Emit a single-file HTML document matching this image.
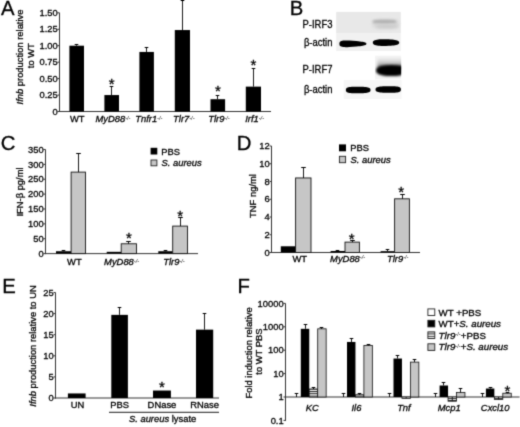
<!DOCTYPE html>
<html><head><meta charset="utf-8"><title>Figure</title>
<style>
html,body{margin:0;padding:0;background:#fff;width:520px;height:427px;overflow:hidden}
svg{display:block}
text{font-family:"Liberation Sans", Arial, sans-serif;fill:#000;stroke:#000;stroke-width:0.3px}
</style></head><body>
<svg width="520" height="427" viewBox="0 0 520 427">
<defs><filter id="soft" filterUnits="userSpaceOnUse" x="0" y="0" width="520" height="427" color-interpolation-filters="sRGB"><feConvolveMatrix order="3" kernelMatrix="0.025 0.1 0.025 0.1 0.5 0.1 0.025 0.1 0.025" edgeMode="duplicate" preserveAlpha="true"/></filter></defs>
<g filter="url(#soft)">
<rect x="0" y="0" width="520" height="427" fill="#fff"/>
<defs><pattern id="stripes" patternUnits="userSpaceOnUse" width="4" height="2.3"><rect width="4" height="2.3" fill="#fff"/><rect width="4" height="0.95" fill="#111"/></pattern></defs>
<text x="1.00" y="14.80" font-size="20.3" text-anchor="start">A</text>
<line x1="59.50" y1="112.00" x2="59.50" y2="12.80" stroke="#333" stroke-width="1"/>
<line x1="59.00" y1="111.50" x2="271.00" y2="111.50" stroke="#333" stroke-width="1"/>
<line x1="57.50" y1="111.50" x2="59.50" y2="111.50" stroke="#333" stroke-width="1"/>
<text transform="translate(57.70,114.70) scale(1.0,1)" font-size="9.4" text-anchor="end" letter-spacing="0">0</text>
<line x1="57.50" y1="95.05" x2="59.50" y2="95.05" stroke="#333" stroke-width="1"/>
<text transform="translate(57.70,98.25) scale(1.0,1)" font-size="9.4" text-anchor="end" letter-spacing="0">0.25</text>
<line x1="57.50" y1="78.60" x2="59.50" y2="78.60" stroke="#333" stroke-width="1"/>
<text transform="translate(57.70,81.80) scale(1.0,1)" font-size="9.4" text-anchor="end" letter-spacing="0">0.50</text>
<line x1="57.50" y1="62.15" x2="59.50" y2="62.15" stroke="#333" stroke-width="1"/>
<text transform="translate(57.70,65.35) scale(1.0,1)" font-size="9.4" text-anchor="end" letter-spacing="0">0.75</text>
<line x1="57.50" y1="45.70" x2="59.50" y2="45.70" stroke="#333" stroke-width="1"/>
<text transform="translate(57.70,48.90) scale(1.0,1)" font-size="9.4" text-anchor="end" letter-spacing="0">1.00</text>
<line x1="57.50" y1="29.25" x2="59.50" y2="29.25" stroke="#333" stroke-width="1"/>
<text transform="translate(57.70,32.45) scale(1.0,1)" font-size="9.4" text-anchor="end" letter-spacing="0">1.25</text>
<line x1="57.50" y1="12.80" x2="59.50" y2="12.80" stroke="#333" stroke-width="1"/>
<text transform="translate(57.70,16.00) scale(1.0,1)" font-size="9.4" text-anchor="end" letter-spacing="0">1.50</text>
<rect x="69.40" y="45.70" width="14.60" height="65.80" fill="#000" stroke="none" stroke-width="0.8"/>
<line x1="76.50" y1="45.70" x2="76.50" y2="44.50" stroke="#000" stroke-width="0.9"/>
<line x1="74.70" y1="44.50" x2="78.30" y2="44.50" stroke="#000" stroke-width="1.0"/>
<rect x="104.40" y="95.05" width="14.60" height="16.45" fill="#000" stroke="none" stroke-width="0.8"/>
<line x1="111.50" y1="95.05" x2="111.50" y2="86.50" stroke="#000" stroke-width="0.9"/>
<line x1="109.70" y1="86.50" x2="113.30" y2="86.50" stroke="#000" stroke-width="1.0"/>
<text x="111.70" y="89.40" font-size="15" text-anchor="middle">*</text>
<rect x="139.40" y="51.95" width="14.50" height="59.55" fill="#000" stroke="none" stroke-width="0.8"/>
<line x1="146.50" y1="51.95" x2="146.50" y2="47.50" stroke="#000" stroke-width="0.9"/>
<line x1="144.70" y1="47.50" x2="148.30" y2="47.50" stroke="#000" stroke-width="1.0"/>
<rect x="174.80" y="30.04" width="15.20" height="81.46" fill="#000" stroke="none" stroke-width="0.8"/>
<line x1="182.50" y1="30.04" x2="182.50" y2="0.50" stroke="#000" stroke-width="0.9"/>
<line x1="180.70" y1="0.50" x2="184.30" y2="0.50" stroke="#000" stroke-width="1.0"/>
<rect x="210.50" y="99.20" width="14.60" height="12.30" fill="#000" stroke="none" stroke-width="0.8"/>
<line x1="217.50" y1="99.20" x2="217.50" y2="95.50" stroke="#000" stroke-width="0.9"/>
<line x1="215.70" y1="95.50" x2="219.30" y2="95.50" stroke="#000" stroke-width="1.0"/>
<text x="217.80" y="95.90" font-size="15" text-anchor="middle">*</text>
<rect x="245.80" y="86.63" width="15.20" height="24.87" fill="#000" stroke="none" stroke-width="0.8"/>
<line x1="253.50" y1="86.63" x2="253.50" y2="68.50" stroke="#000" stroke-width="0.9"/>
<line x1="251.70" y1="68.50" x2="255.30" y2="68.50" stroke="#000" stroke-width="1.0"/>
<text x="253.40" y="69.50" font-size="15" text-anchor="middle">*</text>
<text transform="translate(77.30,122.20) scale(1.0,1)" font-size="9.4" text-anchor="middle">WT</text>
<text transform="translate(113.00,122.20) scale(1.0,1)" font-size="9.4" text-anchor="middle" font-style="italic">MyD88<tspan font-size="5.6" dy="-2.5" stroke-width="0">-/-</tspan></text>
<text transform="translate(148.80,122.20) scale(1.0,1)" font-size="9.4" text-anchor="middle" font-style="italic">Tnfr1<tspan font-size="5.6" dy="-2.5" stroke-width="0">-/-</tspan></text>
<text transform="translate(183.80,122.20) scale(1.0,1)" font-size="9.4" text-anchor="middle" font-style="italic">Tlr7<tspan font-size="5.6" dy="-2.5" stroke-width="0">-/-</tspan></text>
<text transform="translate(219.00,122.20) scale(1.0,1)" font-size="9.4" text-anchor="middle" font-style="italic">Tlr9<tspan font-size="5.6" dy="-2.5" stroke-width="0">-/-</tspan></text>
<text transform="translate(254.60,122.20) scale(1.0,1)" font-size="9.4" text-anchor="middle" font-style="italic">Irf1<tspan font-size="5.6" dy="-2.5" stroke-width="0">-/-</tspan></text>
<text transform="translate(23.20,57.00) rotate(-90) scale(1.0,1)" font-size="9.4" text-anchor="middle"><tspan font-style="italic">Ifnb</tspan> production relative</text>
<text transform="translate(34.20,55.70) rotate(-90) scale(1.0,1)" font-size="9.4" text-anchor="middle">to WT</text>
<text x="289.80" y="14.90" font-size="20.3" text-anchor="start">B</text>
<text transform="translate(332.4,28.00) scale(0.9,1)" font-size="10.5" text-anchor="end" stroke-width="0.15">P-IRF3</text>
<text transform="translate(332.4,46.40) scale(0.9,1)" font-size="10.5" text-anchor="end" stroke-width="0.15">&#946;-actin</text>
<text transform="translate(332.4,73.00) scale(0.9,1)" font-size="10.5" text-anchor="end" stroke-width="0.15">P-IRF7</text>
<text transform="translate(332.4,93.00) scale(0.9,1)" font-size="10.5" text-anchor="end" stroke-width="0.15">&#946;-actin</text>
<defs>
<filter id="bl" x="-20%" y="-60%" width="140%" height="220%"><feGaussianBlur stdDeviation="0.75"/></filter>
<filter id="bl2" x="-30%" y="-100%" width="160%" height="300%"><feGaussianBlur stdDeviation="1.6"/></filter>
<filter id="bl3" x="-30%" y="-100%" width="160%" height="300%"><feGaussianBlur stdDeviation="1.1"/></filter>
<linearGradient id="g7" x1="0" y1="0" x2="0" y2="1"><stop offset="0" stop-color="#f2f2f2"/><stop offset="0.4" stop-color="#d0d0d0"/><stop offset="1" stop-color="#444"/></linearGradient>
</defs>
<rect x="336.20" y="11.90" width="64.60" height="21.60" fill="#e8e8e8" stroke="none" stroke-width="0.8"/>
<polygon points="399.00,24.00 398.92,25.29 398.69,26.03 398.31,26.64 397.77,27.15 397.07,27.59 396.21,27.97 395.20,28.28 394.00,28.54 392.62,28.74 390.98,28.89 388.97,28.97 385.50,29.00 382.03,28.97 380.02,28.89 378.38,28.74 377.00,28.54 375.80,28.28 374.79,27.97 373.93,27.59 373.23,27.15 372.69,26.64 372.31,26.03 372.08,25.29 372.00,24.00 372.08,22.71 372.31,21.97 372.69,21.36 373.23,20.85 373.93,20.41 374.79,20.03 375.80,19.72 377.00,19.46 378.38,19.26 380.02,19.11 382.03,19.03 385.50,19.00 388.97,19.03 390.98,19.11 392.62,19.26 394.00,19.46 395.20,19.72 396.21,20.03 397.07,20.41 397.77,20.85 398.31,21.36 398.69,21.97 398.92,22.71" fill="#dadada" filter="url(#bl2)"/>
<polygon points="396.50,21.60 396.43,22.06 396.23,22.33 395.88,22.55 395.40,22.73 394.78,22.89 394.02,23.03 393.12,23.14 392.06,23.24 390.83,23.31 389.37,23.36 387.59,23.39 384.50,23.40 381.41,23.39 379.63,23.36 378.17,23.31 376.94,23.24 375.88,23.14 374.98,23.03 374.22,22.89 373.60,22.73 373.12,22.55 372.77,22.33 372.57,22.06 372.50,21.60 372.57,21.14 372.77,20.87 373.12,20.65 373.60,20.47 374.22,20.31 374.98,20.17 375.88,20.06 376.94,19.96 378.17,19.89 379.63,19.84 381.41,19.81 384.50,19.80 387.59,19.81 389.37,19.84 390.83,19.89 392.06,19.96 393.12,20.06 394.02,20.17 394.78,20.31 395.40,20.47 395.88,20.65 396.23,20.87 396.43,21.14" fill="#b0b0b0" filter="url(#bl3)"/>
<polygon points="398.00,26.40 397.94,26.79 397.75,27.01 397.43,27.19 396.99,27.34 396.43,27.48 395.73,27.59 394.90,27.69 393.93,27.76 392.80,27.82 391.47,27.87 389.83,27.89 387.00,27.90 384.17,27.89 382.53,27.87 381.20,27.82 380.07,27.76 379.10,27.69 378.27,27.59 377.57,27.48 377.01,27.34 376.57,27.19 376.25,27.01 376.06,26.79 376.00,26.40 376.06,26.01 376.25,25.79 376.57,25.61 377.01,25.46 377.57,25.32 378.27,25.21 379.10,25.11 380.07,25.04 381.20,24.98 382.53,24.93 384.17,24.91 387.00,24.90 389.83,24.91 391.47,24.93 392.80,24.98 393.93,25.04 394.90,25.11 395.73,25.21 396.43,25.32 396.99,25.46 397.43,25.61 397.75,25.79 397.94,26.01" fill="#c8c8c8" filter="url(#bl2)"/>
<rect x="336.20" y="33.50" width="64.60" height="17.50" fill="#f1f1f1" stroke="none" stroke-width="0.8"/>
<polygon points="366.40,43.80 366.32,44.32 366.09,44.62 365.71,44.88 365.17,45.12 364.47,45.34 363.61,45.55 362.60,45.76 361.40,45.95 360.02,46.15 358.38,46.33 356.37,46.53 352.90,46.80 349.43,47.04 347.42,47.13 345.78,47.15 344.40,47.10 343.20,46.99 342.19,46.81 341.33,46.57 340.63,46.26 340.09,45.88 339.71,45.42 339.48,44.83 339.40,43.80 339.48,42.77 339.71,42.18 340.09,41.72 340.63,41.34 341.33,41.03 342.19,40.79 343.20,40.61 344.40,40.50 345.78,40.45 347.42,40.47 349.43,40.56 352.90,40.80 356.37,41.07 358.38,41.27 360.02,41.45 361.40,41.65 362.60,41.84 363.61,42.05 364.47,42.26 365.17,42.48 365.71,42.72 366.09,42.98 366.32,43.28" fill="#000" filter="url(#bl)"/>
<polygon points="399.20,42.60 399.11,43.24 398.85,43.68 398.42,44.07 397.82,44.41 397.05,44.72 396.11,44.99 395.01,45.23 393.74,45.44 392.30,45.61 390.67,45.75 388.76,45.85 386.00,45.93 383.24,45.96 381.33,45.94 379.70,45.85 378.26,45.72 376.99,45.54 375.89,45.31 374.95,45.03 374.18,44.70 373.58,44.31 373.15,43.87 372.89,43.35 372.80,42.60 372.89,41.85 373.15,41.33 373.58,40.89 374.18,40.50 374.95,40.17 375.89,39.89 376.99,39.66 378.26,39.48 379.70,39.35 381.33,39.26 383.24,39.24 386.00,39.27 388.76,39.35 390.67,39.45 392.30,39.59 393.74,39.76 395.01,39.97 396.11,40.21 397.05,40.48 397.82,40.79 398.42,41.13 398.85,41.52 399.11,41.96" fill="#000" filter="url(#bl)"/>
<clipPath id="c7"><rect x="375.0" y="55.5" width="26.2" height="24"/></clipPath>
<g clip-path="url(#c7)">
<rect x="375.00" y="55.50" width="26.20" height="24.00" fill="#f4f4f4" stroke="none" stroke-width="0.8"/>
<rect x="377.5" y="57.5" width="26" height="12" fill="url(#g7)" filter="url(#bl2)"/>
<polygon points="407.00,70.60 406.88,71.54 406.54,72.30 405.97,72.99 405.18,73.61 404.17,74.17 402.97,74.67 401.57,75.10 399.98,75.45 398.22,75.73 396.29,75.94 394.14,76.06 391.50,76.10 388.86,76.06 386.71,75.94 384.78,75.73 383.02,75.45 381.43,75.10 380.03,74.67 378.83,74.17 377.82,73.61 377.03,72.99 376.46,72.30 376.12,71.54 376.00,70.60 376.12,69.66 376.46,68.90 377.03,68.21 377.82,67.59 378.83,67.03 380.03,66.53 381.43,66.10 383.02,65.75 384.78,65.47 386.71,65.26 388.86,65.14 391.50,65.10 394.14,65.14 396.29,65.26 398.22,65.47 399.98,65.75 401.57,66.10 402.97,66.53 404.17,67.03 405.18,67.59 405.97,68.21 406.54,68.90 406.88,69.66" fill="#000" filter="url(#bl3)"/>
</g>
<rect x="343.80" y="80.00" width="57.70" height="19.00" fill="#f6f6f6" stroke="none" stroke-width="0.8"/>
<polygon points="370.50,90.00 370.43,90.81 370.22,91.28 369.87,91.67 369.38,91.99 368.74,92.28 367.96,92.53 367.03,92.74 365.95,92.92 364.68,93.07 363.20,93.18 361.36,93.26 358.20,93.32 355.04,93.35 353.20,93.32 351.72,93.24 350.45,93.12 349.37,92.96 348.44,92.75 347.66,92.50 347.02,92.19 346.53,91.84 346.18,91.42 345.97,90.90 345.90,90.00 345.97,89.10 346.18,88.58 346.53,88.16 347.02,87.81 347.66,87.50 348.44,87.25 349.37,87.04 350.45,86.88 351.72,86.76 353.20,86.68 355.04,86.65 358.20,86.67 361.36,86.74 363.20,86.82 364.68,86.93 365.95,87.08 367.03,87.26 367.96,87.47 368.74,87.72 369.38,88.01 369.87,88.33 370.22,88.72 370.43,89.19" fill="#000" filter="url(#bl)"/>
<polygon points="400.90,89.50 400.83,90.37 400.61,90.88 400.25,91.29 399.74,91.64 399.08,91.93 398.28,92.18 397.32,92.39 396.20,92.56 394.89,92.69 393.36,92.77 391.47,92.82 388.20,92.82 384.93,92.77 383.04,92.71 381.51,92.60 380.20,92.46 379.08,92.29 378.12,92.08 377.32,91.83 376.66,91.54 376.15,91.20 375.79,90.81 375.57,90.33 375.50,89.50 375.57,88.67 375.79,88.19 376.15,87.80 376.66,87.46 377.32,87.17 378.12,86.92 379.08,86.71 380.20,86.54 381.51,86.40 383.04,86.29 384.93,86.23 388.20,86.19 391.47,86.18 393.36,86.23 394.89,86.31 396.20,86.44 397.32,86.61 398.28,86.82 399.08,87.07 399.74,87.36 400.25,87.71 400.61,88.12 400.83,88.63" fill="#000" filter="url(#bl)"/>
<text x="0.80" y="150.00" font-size="20.3" text-anchor="start">C</text>
<line x1="45.50" y1="254.10" x2="45.50" y2="149.50" stroke="#333" stroke-width="1"/>
<line x1="45.00" y1="253.60" x2="198.00" y2="253.60" stroke="#333" stroke-width="1"/>
<line x1="43.50" y1="253.60" x2="45.50" y2="253.60" stroke="#333" stroke-width="1"/>
<text transform="translate(43.70,256.80) scale(1.0,1)" font-size="9.4" text-anchor="end" letter-spacing="0">0</text>
<line x1="43.50" y1="238.73" x2="45.50" y2="238.73" stroke="#333" stroke-width="1"/>
<text transform="translate(43.70,241.93) scale(1.0,1)" font-size="9.4" text-anchor="end" letter-spacing="0">50</text>
<line x1="43.50" y1="223.86" x2="45.50" y2="223.86" stroke="#333" stroke-width="1"/>
<text transform="translate(43.70,227.06) scale(1.0,1)" font-size="9.4" text-anchor="end" letter-spacing="0">100</text>
<line x1="43.50" y1="208.99" x2="45.50" y2="208.99" stroke="#333" stroke-width="1"/>
<text transform="translate(43.70,212.19) scale(1.0,1)" font-size="9.4" text-anchor="end" letter-spacing="0">150</text>
<line x1="43.50" y1="194.11" x2="45.50" y2="194.11" stroke="#333" stroke-width="1"/>
<text transform="translate(43.70,197.31) scale(1.0,1)" font-size="9.4" text-anchor="end" letter-spacing="0">200</text>
<line x1="43.50" y1="179.24" x2="45.50" y2="179.24" stroke="#333" stroke-width="1"/>
<text transform="translate(43.70,182.44) scale(1.0,1)" font-size="9.4" text-anchor="end" letter-spacing="0">250</text>
<line x1="43.50" y1="164.37" x2="45.50" y2="164.37" stroke="#333" stroke-width="1"/>
<text transform="translate(43.70,167.57) scale(1.0,1)" font-size="9.4" text-anchor="end" letter-spacing="0">300</text>
<line x1="43.50" y1="149.50" x2="45.50" y2="149.50" stroke="#333" stroke-width="1"/>
<text transform="translate(43.70,152.70) scale(1.0,1)" font-size="9.4" text-anchor="end" letter-spacing="0">350</text>
<rect x="56.00" y="251.22" width="15.10" height="2.38" fill="#000" stroke="none" stroke-width="0.8"/>
<line x1="63.50" y1="251.22" x2="63.50" y2="250.50" stroke="#000" stroke-width="0.9"/>
<line x1="61.70" y1="250.50" x2="65.30" y2="250.50" stroke="#000" stroke-width="1.0"/>
<rect x="71.10" y="172.10" width="14.40" height="81.50" fill="#c6c6c6" stroke="#111" stroke-width="0.9"/>
<line x1="78.50" y1="172.10" x2="78.50" y2="153.50" stroke="#000" stroke-width="0.9"/>
<line x1="76.20" y1="153.50" x2="80.80" y2="153.50" stroke="#000" stroke-width="1.0"/>
<rect x="106.70" y="251.82" width="14.50" height="1.78" fill="#000" stroke="none" stroke-width="0.8"/>
<rect x="121.20" y="243.78" width="15.30" height="9.82" fill="#c6c6c6" stroke="#111" stroke-width="0.9"/>
<line x1="128.50" y1="243.78" x2="128.50" y2="241.50" stroke="#000" stroke-width="0.9"/>
<line x1="126.20" y1="241.50" x2="130.80" y2="241.50" stroke="#000" stroke-width="1.0"/>
<text x="128.80" y="242.70" font-size="15" text-anchor="middle">*</text>
<rect x="158.30" y="251.22" width="14.40" height="2.38" fill="#000" stroke="none" stroke-width="0.8"/>
<line x1="165.50" y1="251.22" x2="165.50" y2="250.50" stroke="#000" stroke-width="0.9"/>
<line x1="163.70" y1="250.50" x2="167.30" y2="250.50" stroke="#000" stroke-width="1.0"/>
<rect x="172.70" y="226.09" width="14.80" height="27.51" fill="#c6c6c6" stroke="#111" stroke-width="0.9"/>
<line x1="180.50" y1="226.09" x2="180.50" y2="217.50" stroke="#000" stroke-width="0.9"/>
<line x1="178.20" y1="217.50" x2="182.80" y2="217.50" stroke="#000" stroke-width="1.0"/>
<text x="180.20" y="221.00" font-size="15" text-anchor="middle">*</text>
<text transform="translate(74.40,265.00) scale(1.0,1)" font-size="9.4" text-anchor="middle">WT</text>
<text transform="translate(121.60,265.00) scale(1.0,1)" font-size="9.4" text-anchor="middle" font-style="italic">MyD88<tspan font-size="5.6" dy="-2.5" stroke-width="0">-/-</tspan></text>
<text transform="translate(174.00,265.00) scale(1.0,1)" font-size="9.4" text-anchor="middle" font-style="italic">Tlr9<tspan font-size="5.6" dy="-2.5" stroke-width="0">-/-</tspan></text>
<rect x="150.60" y="147.80" width="6.70" height="6.70" fill="#000" stroke="none" stroke-width="0.8"/>
<rect x="151.00" y="160.00" width="5.90" height="5.80" fill="#c6c6c6" stroke="#222" stroke-width="0.9"/>
<text transform="translate(161.30,154.60) scale(1.0,1)" font-size="9.4" text-anchor="start">PBS</text>
<text transform="translate(161.60,165.90) scale(1.0,1)" font-size="9.4" text-anchor="start" font-style="italic">S. aureus</text>
<text transform="translate(23.00,192.00) rotate(-90) scale(1.0,1)" font-size="9.4" text-anchor="middle">IFN-&#946; pg/ml</text>
<text x="236.80" y="150.00" font-size="20.3" text-anchor="start">D</text>
<line x1="271.50" y1="253.00" x2="271.50" y2="146.00" stroke="#333" stroke-width="1"/>
<line x1="271.00" y1="252.50" x2="420.00" y2="252.50" stroke="#333" stroke-width="1"/>
<line x1="269.50" y1="252.50" x2="271.50" y2="252.50" stroke="#333" stroke-width="1"/>
<text transform="translate(269.70,255.70) scale(1.0,1)" font-size="9.4" text-anchor="end" letter-spacing="0">0</text>
<line x1="269.50" y1="234.75" x2="271.50" y2="234.75" stroke="#333" stroke-width="1"/>
<text transform="translate(269.70,237.95) scale(1.0,1)" font-size="9.4" text-anchor="end" letter-spacing="0">2</text>
<line x1="269.50" y1="217.00" x2="271.50" y2="217.00" stroke="#333" stroke-width="1"/>
<text transform="translate(269.70,220.20) scale(1.0,1)" font-size="9.4" text-anchor="end" letter-spacing="0">4</text>
<line x1="269.50" y1="199.25" x2="271.50" y2="199.25" stroke="#333" stroke-width="1"/>
<text transform="translate(269.70,202.45) scale(1.0,1)" font-size="9.4" text-anchor="end" letter-spacing="0">6</text>
<line x1="269.50" y1="181.50" x2="271.50" y2="181.50" stroke="#333" stroke-width="1"/>
<text transform="translate(269.70,184.70) scale(1.0,1)" font-size="9.4" text-anchor="end" letter-spacing="0">8</text>
<line x1="269.50" y1="163.75" x2="271.50" y2="163.75" stroke="#333" stroke-width="1"/>
<text transform="translate(269.70,166.95) scale(1.0,1)" font-size="9.4" text-anchor="end" letter-spacing="0">10</text>
<line x1="269.50" y1="146.00" x2="271.50" y2="146.00" stroke="#333" stroke-width="1"/>
<text transform="translate(269.70,149.20) scale(1.0,1)" font-size="9.4" text-anchor="end" letter-spacing="0">12</text>
<rect x="280.80" y="246.29" width="14.80" height="6.21" fill="#000" stroke="none" stroke-width="0.8"/>
<rect x="295.60" y="177.95" width="15.40" height="74.55" fill="#c6c6c6" stroke="#111" stroke-width="0.9"/>
<line x1="303.50" y1="177.95" x2="303.50" y2="167.50" stroke="#000" stroke-width="0.9"/>
<line x1="301.20" y1="167.50" x2="305.80" y2="167.50" stroke="#000" stroke-width="1.0"/>
<rect x="330.60" y="250.99" width="14.40" height="1.51" fill="#000" stroke="none" stroke-width="0.8"/>
<line x1="337.50" y1="250.99" x2="337.50" y2="250.50" stroke="#000" stroke-width="0.9"/>
<line x1="335.70" y1="250.50" x2="339.30" y2="250.50" stroke="#000" stroke-width="1.0"/>
<rect x="345.00" y="242.12" width="14.40" height="10.38" fill="#c6c6c6" stroke="#111" stroke-width="0.9"/>
<line x1="352.50" y1="242.12" x2="352.50" y2="240.50" stroke="#000" stroke-width="0.9"/>
<line x1="350.20" y1="240.50" x2="354.80" y2="240.50" stroke="#000" stroke-width="1.0"/>
<text x="351.70" y="243.70" font-size="15" text-anchor="middle">*</text>
<rect x="380.60" y="251.17" width="14.00" height="1.33" fill="#000" stroke="none" stroke-width="0.8"/>
<line x1="387.50" y1="251.17" x2="387.50" y2="249.50" stroke="#000" stroke-width="0.9"/>
<line x1="385.70" y1="249.50" x2="389.30" y2="249.50" stroke="#000" stroke-width="1.0"/>
<rect x="394.60" y="198.81" width="14.80" height="53.69" fill="#c6c6c6" stroke="#111" stroke-width="0.9"/>
<line x1="402.50" y1="198.81" x2="402.50" y2="194.50" stroke="#000" stroke-width="0.9"/>
<line x1="400.20" y1="194.50" x2="404.80" y2="194.50" stroke="#000" stroke-width="1.0"/>
<text x="401.20" y="197.30" font-size="15" text-anchor="middle">*</text>
<text transform="translate(299.80,261.80) scale(1.0,1)" font-size="9.4" text-anchor="middle">WT</text>
<text transform="translate(347.60,261.80) scale(1.0,1)" font-size="9.4" text-anchor="middle" font-style="italic">MyD88<tspan font-size="5.6" dy="-2.5" stroke-width="0">-/-</tspan></text>
<text transform="translate(397.70,261.80) scale(1.0,1)" font-size="9.4" text-anchor="middle" font-style="italic">Tlr9<tspan font-size="5.6" dy="-2.5" stroke-width="0">-/-</tspan></text>
<rect x="339.00" y="144.40" width="7.00" height="6.90" fill="#000" stroke="none" stroke-width="0.8"/>
<rect x="339.40" y="156.30" width="6.20" height="6.40" fill="#c6c6c6" stroke="#222" stroke-width="0.9"/>
<text transform="translate(350.30,151.10) scale(1.0,1)" font-size="9.4" text-anchor="start">PBS</text>
<text transform="translate(350.60,162.70) scale(1.0,1)" font-size="9.4" text-anchor="start" font-style="italic">S. aureus</text>
<text transform="translate(256.10,196.00) rotate(-90) scale(1.0,1)" font-size="9.4" text-anchor="middle">TNF ng/ml</text>
<text x="2.20" y="293.00" font-size="20.3" text-anchor="start">E</text>
<line x1="55.50" y1="398.50" x2="55.50" y2="292.50" stroke="#333" stroke-width="1"/>
<line x1="55.00" y1="398.00" x2="219.00" y2="398.00" stroke="#333" stroke-width="1"/>
<line x1="53.50" y1="398.00" x2="55.50" y2="398.00" stroke="#333" stroke-width="1"/>
<text transform="translate(53.70,401.20) scale(1.0,1)" font-size="9.4" text-anchor="end" letter-spacing="0">0</text>
<line x1="53.50" y1="376.90" x2="55.50" y2="376.90" stroke="#333" stroke-width="1"/>
<text transform="translate(53.70,380.10) scale(1.0,1)" font-size="9.4" text-anchor="end" letter-spacing="0">5</text>
<line x1="53.50" y1="355.80" x2="55.50" y2="355.80" stroke="#333" stroke-width="1"/>
<text transform="translate(53.70,359.00) scale(1.0,1)" font-size="9.4" text-anchor="end" letter-spacing="0">10</text>
<line x1="53.50" y1="334.70" x2="55.50" y2="334.70" stroke="#333" stroke-width="1"/>
<text transform="translate(53.70,337.90) scale(1.0,1)" font-size="9.4" text-anchor="end" letter-spacing="0">15</text>
<line x1="53.50" y1="313.60" x2="55.50" y2="313.60" stroke="#333" stroke-width="1"/>
<text transform="translate(53.70,316.80) scale(1.0,1)" font-size="9.4" text-anchor="end" letter-spacing="0">20</text>
<line x1="53.50" y1="292.50" x2="55.50" y2="292.50" stroke="#333" stroke-width="1"/>
<text transform="translate(53.70,295.70) scale(1.0,1)" font-size="9.4" text-anchor="end" letter-spacing="0">25</text>
<rect x="67.90" y="393.44" width="17.70" height="4.56" fill="#000" stroke="none" stroke-width="0.8"/>
<rect x="111.30" y="314.87" width="16.60" height="83.13" fill="#000" stroke="none" stroke-width="0.8"/>
<line x1="119.50" y1="314.87" x2="119.50" y2="307.50" stroke="#000" stroke-width="0.9"/>
<line x1="117.70" y1="307.50" x2="121.30" y2="307.50" stroke="#000" stroke-width="1.0"/>
<rect x="153.00" y="390.53" width="17.90" height="7.47" fill="#000" stroke="none" stroke-width="0.8"/>
<text x="161.95" y="391.80" font-size="15" text-anchor="middle">*</text>
<rect x="196.00" y="329.64" width="17.20" height="68.36" fill="#000" stroke="none" stroke-width="0.8"/>
<line x1="204.50" y1="329.64" x2="204.50" y2="313.50" stroke="#000" stroke-width="0.9"/>
<line x1="202.70" y1="313.50" x2="206.30" y2="313.50" stroke="#000" stroke-width="1.0"/>
<text transform="translate(77.55,408.30) scale(1.0,1)" font-size="9.4" text-anchor="middle">UN</text>
<text transform="translate(119.60,408.30) scale(1.0,1)" font-size="9.4" text-anchor="middle">PBS</text>
<text transform="translate(161.95,408.30) scale(1.0,1)" font-size="9.4" text-anchor="middle">DNase</text>
<text transform="translate(204.60,408.30) scale(1.0,1)" font-size="9.4" text-anchor="middle">RNase</text>
<line x1="109.00" y1="412.30" x2="219.00" y2="412.30" stroke="#000" stroke-width="0.9"/>
<text transform="translate(162.60,422.10) scale(1.0,1)" font-size="9.4" text-anchor="middle"><tspan font-style="italic">S. aureus</tspan> lysate</text>
<text transform="translate(36.40,346.00) rotate(-90) scale(1.0,1)" font-size="9.4" text-anchor="middle"><tspan font-style="italic">Ifnb</tspan> production relative to UN</text>
<text x="237.50" y="293.20" font-size="20.3" text-anchor="start">F</text>
<line x1="285.50" y1="420.90" x2="285.50" y2="303.40" stroke="#333" stroke-width="1"/>
<line x1="285.00" y1="397.00" x2="519.50" y2="397.00" stroke="#333" stroke-width="1"/>
<line x1="283.50" y1="420.40" x2="285.50" y2="420.40" stroke="#333" stroke-width="1"/>
<text transform="translate(283.70,423.60) scale(1.0,1)" font-size="9.4" text-anchor="end" letter-spacing="0">0.1</text>
<line x1="283.50" y1="397.00" x2="285.50" y2="397.00" stroke="#333" stroke-width="1"/>
<text transform="translate(283.70,400.20) scale(1.0,1)" font-size="9.4" text-anchor="end" letter-spacing="0">1</text>
<line x1="283.50" y1="373.60" x2="285.50" y2="373.60" stroke="#333" stroke-width="1"/>
<text transform="translate(283.70,376.80) scale(1.0,1)" font-size="9.4" text-anchor="end" letter-spacing="0">10</text>
<line x1="283.50" y1="350.20" x2="285.50" y2="350.20" stroke="#333" stroke-width="1"/>
<text transform="translate(283.70,353.40) scale(1.0,1)" font-size="9.4" text-anchor="end" letter-spacing="0">100</text>
<line x1="283.50" y1="326.80" x2="285.50" y2="326.80" stroke="#333" stroke-width="1"/>
<text transform="translate(283.70,330.00) scale(1.0,1)" font-size="9.4" text-anchor="end" letter-spacing="0">1000</text>
<line x1="283.50" y1="303.40" x2="285.50" y2="303.40" stroke="#333" stroke-width="1"/>
<text transform="translate(283.70,306.60) scale(1.0,1)" font-size="9.4" text-anchor="end" letter-spacing="0">10000</text>
<line x1="296.50" y1="397.00" x2="296.50" y2="393.50" stroke="#000" stroke-width="0.9"/>
<line x1="294.70" y1="393.50" x2="298.30" y2="393.50" stroke="#000" stroke-width="1.0"/>
<rect x="300.80" y="328.82" width="8.45" height="68.18" fill="#000" stroke="none" stroke-width="0.8"/>
<line x1="305.50" y1="328.82" x2="305.50" y2="324.50" stroke="#000" stroke-width="0.9"/>
<line x1="303.70" y1="324.50" x2="307.30" y2="324.50" stroke="#000" stroke-width="1.0"/>
<rect x="309.25" y="388.99" width="8.45" height="8.01" fill="url(#stripes)" stroke="#111" stroke-width="0.8"/>
<line x1="313.50" y1="388.99" x2="313.50" y2="387.50" stroke="#000" stroke-width="0.9"/>
<line x1="311.70" y1="387.50" x2="315.30" y2="387.50" stroke="#000" stroke-width="1.0"/>
<rect x="317.70" y="328.82" width="8.45" height="68.18" fill="#c6c6c6" stroke="#111" stroke-width="0.8"/>
<line x1="321.50" y1="328.82" x2="321.50" y2="327.50" stroke="#000" stroke-width="0.9"/>
<line x1="319.70" y1="327.50" x2="323.30" y2="327.50" stroke="#000" stroke-width="1.0"/>
<line x1="343.50" y1="397.00" x2="343.50" y2="393.50" stroke="#000" stroke-width="0.9"/>
<line x1="341.70" y1="393.50" x2="345.30" y2="393.50" stroke="#000" stroke-width="1.0"/>
<rect x="347.00" y="341.96" width="8.45" height="55.04" fill="#000" stroke="none" stroke-width="0.8"/>
<line x1="351.50" y1="341.96" x2="351.50" y2="338.50" stroke="#000" stroke-width="0.9"/>
<line x1="349.70" y1="338.50" x2="353.30" y2="338.50" stroke="#000" stroke-width="1.0"/>
<rect x="355.45" y="394.73" width="8.45" height="2.27" fill="url(#stripes)" stroke="#111" stroke-width="0.8"/>
<line x1="359.50" y1="394.73" x2="359.50" y2="393.50" stroke="#000" stroke-width="0.9"/>
<line x1="357.70" y1="393.50" x2="361.30" y2="393.50" stroke="#000" stroke-width="1.0"/>
<rect x="363.90" y="345.42" width="8.45" height="51.58" fill="#c6c6c6" stroke="#111" stroke-width="0.8"/>
<line x1="368.50" y1="345.42" x2="368.50" y2="344.50" stroke="#000" stroke-width="0.9"/>
<line x1="366.70" y1="344.50" x2="370.30" y2="344.50" stroke="#000" stroke-width="1.0"/>
<line x1="389.50" y1="397.00" x2="389.50" y2="393.50" stroke="#000" stroke-width="0.9"/>
<line x1="387.70" y1="393.50" x2="391.30" y2="393.50" stroke="#000" stroke-width="1.0"/>
<rect x="393.50" y="358.54" width="8.45" height="38.46" fill="#000" stroke="none" stroke-width="0.8"/>
<line x1="397.50" y1="358.54" x2="397.50" y2="355.50" stroke="#000" stroke-width="0.9"/>
<line x1="395.70" y1="355.50" x2="399.30" y2="355.50" stroke="#000" stroke-width="1.0"/>
<rect x="401.95" y="397.00" width="8.45" height="1.30" fill="url(#stripes)" stroke="#111" stroke-width="0.8"/>
<line x1="406.18" y1="397.00" x2="406.18" y2="398.30" stroke="#111" stroke-width="0.9"/>
<rect x="410.40" y="362.10" width="8.45" height="34.90" fill="#c6c6c6" stroke="#111" stroke-width="0.8"/>
<line x1="414.50" y1="362.10" x2="414.50" y2="359.50" stroke="#000" stroke-width="0.9"/>
<line x1="412.70" y1="359.50" x2="416.30" y2="359.50" stroke="#000" stroke-width="1.0"/>
<line x1="435.50" y1="397.00" x2="435.50" y2="393.50" stroke="#000" stroke-width="0.9"/>
<line x1="433.70" y1="393.50" x2="437.30" y2="393.50" stroke="#000" stroke-width="1.0"/>
<rect x="439.60" y="385.50" width="8.45" height="11.50" fill="#000" stroke="none" stroke-width="0.8"/>
<line x1="443.50" y1="385.50" x2="443.50" y2="382.50" stroke="#000" stroke-width="0.9"/>
<line x1="441.70" y1="382.50" x2="445.30" y2="382.50" stroke="#000" stroke-width="1.0"/>
<rect x="448.05" y="397.00" width="8.45" height="4.22" fill="url(#stripes)" stroke="#111" stroke-width="0.8"/>
<line x1="452.28" y1="397.00" x2="452.28" y2="401.22" stroke="#111" stroke-width="0.9"/>
<rect x="456.50" y="392.55" width="8.45" height="4.45" fill="#c6c6c6" stroke="#111" stroke-width="0.8"/>
<line x1="460.50" y1="392.55" x2="460.50" y2="388.50" stroke="#000" stroke-width="0.9"/>
<line x1="458.70" y1="388.50" x2="462.30" y2="388.50" stroke="#000" stroke-width="1.0"/>
<line x1="482.50" y1="397.00" x2="482.50" y2="393.50" stroke="#000" stroke-width="0.9"/>
<line x1="480.70" y1="393.50" x2="484.30" y2="393.50" stroke="#000" stroke-width="1.0"/>
<rect x="485.90" y="388.54" width="8.45" height="8.46" fill="#000" stroke="none" stroke-width="0.8"/>
<line x1="490.50" y1="388.54" x2="490.50" y2="387.50" stroke="#000" stroke-width="0.9"/>
<line x1="488.70" y1="387.50" x2="492.30" y2="387.50" stroke="#000" stroke-width="1.0"/>
<rect x="494.35" y="397.00" width="8.45" height="2.40" fill="url(#stripes)" stroke="#111" stroke-width="0.8"/>
<line x1="498.57" y1="397.00" x2="498.57" y2="399.40" stroke="#111" stroke-width="0.9"/>
<rect x="502.80" y="393.22" width="8.45" height="3.78" fill="#c6c6c6" stroke="#111" stroke-width="0.8"/>
<line x1="507.50" y1="393.22" x2="507.50" y2="392.50" stroke="#000" stroke-width="0.9"/>
<line x1="505.70" y1="392.50" x2="509.30" y2="392.50" stroke="#000" stroke-width="1.0"/>
<text x="507.30" y="395.80" font-size="15" text-anchor="middle">*</text>
<text transform="translate(312.20,410.50) scale(1.0,1)" font-size="9.4" text-anchor="middle" font-style="italic">KC</text>
<text transform="translate(356.40,410.50) scale(1.0,1)" font-size="9.4" text-anchor="middle" font-style="italic">Il6</text>
<text transform="translate(403.90,410.50) scale(1.0,1)" font-size="9.4" text-anchor="middle" font-style="italic">Tnf</text>
<text transform="translate(449.20,410.50) scale(1.0,1)" font-size="9.4" text-anchor="middle" font-style="italic">Mcp1</text>
<text transform="translate(495.20,410.50) scale(1.0,1)" font-size="9.4" text-anchor="middle" font-style="italic">Cxcl10</text>
<rect x="427.90" y="308.90" width="6.90" height="6.60" fill="#fff" stroke="#222" stroke-width="0.9"/>
<text transform="translate(438.6,315.50) scale(1.035,1)" font-size="9.4">WT +PBS</text>
<rect x="427.90" y="320.30" width="6.90" height="6.60" fill="#000" stroke="#222" stroke-width="0.9"/>
<text transform="translate(438.6,326.90) scale(1.035,1)" font-size="9.4">WT+<tspan font-style="italic">S. aureus</tspan></text>
<rect x="427.90" y="331.90" width="6.90" height="6.60" fill="url(#stripes)" stroke="#222" stroke-width="0.9"/>
<text transform="translate(438.6,338.50) scale(1.035,1)" font-size="9.4"><tspan font-style="italic">Tlr9</tspan><tspan font-size="5.6" dy="-2.5" stroke-width="0">-/-</tspan><tspan dy="2.5">+PBS</tspan></text>
<rect x="427.90" y="343.80" width="6.90" height="6.60" fill="#c6c6c6" stroke="#222" stroke-width="0.9"/>
<text transform="translate(438.6,350.40) scale(1.035,1)" font-size="9.4"><tspan font-style="italic">Tlr9</tspan><tspan font-size="5.6" dy="-2.5" stroke-width="0">-/-</tspan><tspan dy="2.5">+</tspan><tspan font-style="italic">S. aureus</tspan></text>
<text transform="translate(252.00,352.90) rotate(-90) scale(1.0,1)" font-size="9.4" text-anchor="middle">Fold induction relative</text>
<text transform="translate(261.80,351.60) rotate(-90) scale(1.0,1)" font-size="9.4" text-anchor="middle">to WT PBS</text>
</g>
</svg>
</body></html>
